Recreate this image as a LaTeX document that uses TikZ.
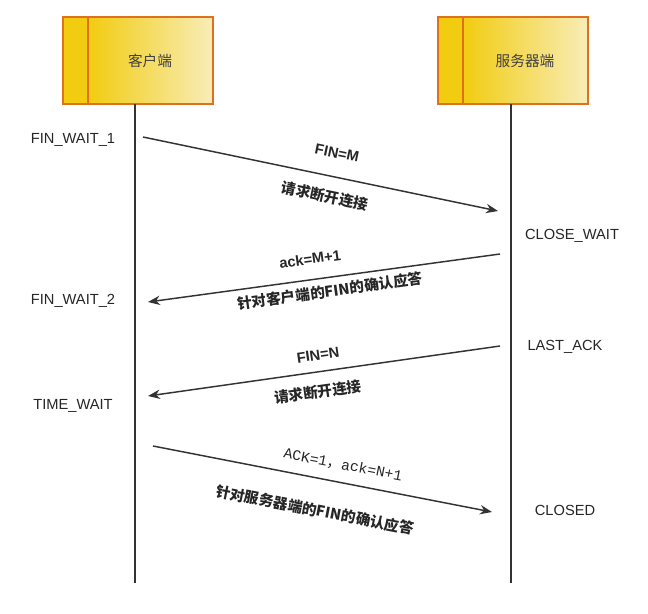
\documentclass[tikz,border=0pt]{standalone}
\usepackage{fontspec}
\setmainfont{Liberation Sans}
\newfontfamily\cjk{Noto Sans CJK SC}
\newfontfamily\mono{Liberation Mono}
\usetikzlibrary{arrows.meta}
\definecolor{boxedge}{HTML}{E07020}
\definecolor{ydark}{HTML}{F2CC10}
\definecolor{ylight}{HTML}{F8EDB8}
\definecolor{ln}{HTML}{333333}
\begin{document}
\begin{tikzpicture}[x=0.75pt,y=-0.75pt,
  msg/.style={draw=ln,line width=1.1pt,-{Stealth[length=9pt,width=7pt]}},
  life/.style={draw=ln,line width=1.1pt},
  st/.style={font=\fontsize{11}{13}\selectfont,text=black!85},
  lab/.style={text=black!85,inner sep=1pt}]
\useasboundingbox (0,0) rectangle (648,613);
\fill[white] (0,0) rectangle (648,613);
\foreach \x/\n/\t in {63/cbox/客户端,438/sbox/服务器端}{
  \shade[left color=ydark,right color=ylight] (\x+25,17) rectangle (\x+150,104);
  \fill[ydark] (\x,17) rectangle (\x+25,104);
  \draw[boxedge,line width=1.3pt] (\x,17) rectangle (\x+150,104);
  \draw[boxedge,line width=1.3pt] (\x+25,17) -- (\x+25,104);
  \node[font=\cjk\fontsize{11}{13}\selectfont,text=black!75] (\n) at (\x+87,61) {\t};
}
\coordinate (c0) at (135,104); \coordinate (c1) at (135,583);
\coordinate (s0) at (511,104); \coordinate (s1) at (511,583);
\draw[life] (c0) -- (c1);
\draw[life] (s0) -- (s1);
\node[st] (fw1) at (73,140) {FIN\_WAIT\_1};
\node[st] (cw) at (572,236) {CLOSE\_WAIT};
\node[st] (fw2) at (73,301) {FIN\_WAIT\_2};
\node[st] (la) at (565,347) {LAST\_ACK};
\node[st] (tw) at (73,406) {TIME\_WAIT};
\node[st] (cl) at (565,510) {CLOSED};
\coordinate (a1s) at (143,137); \coordinate (a1e) at (498,211);
\coordinate (a2s) at (500,254); \coordinate (a2e) at (148,302);
\coordinate (a3s) at (500,346); \coordinate (a3e) at (148,396);
\coordinate (a4s) at (153,446); \coordinate (a4e) at (492,512);
\draw[msg] (a1s) -- (a1e);
\draw[msg] (a2s) -- (a2e);
\draw[msg] (a3s) -- (a3e);
\draw[msg] (a4s) -- (a4e);
\node[lab,font=\bfseries\fontsize{11}{13}\selectfont,rotate=-11.8] (l1a) at (337,153) {FIN=M};
\node[lab,font=\cjk\bfseries\fontsize{11}{13}\selectfont,rotate=-11.8] (l1b) at (325,196) {请求断开连接};
\node[lab,font=\bfseries\fontsize{11}{13}\selectfont,rotate=7.8] (l2a) at (310,259) {ack=M+1};
\node[lab,font=\cjk\bfseries\fontsize{11}{13}\selectfont,rotate=7.8] (l2b) at (330,291) {针对客户端的FIN的确认应答};
\node[lab,font=\bfseries\fontsize{11}{13}\selectfont,rotate=8.1] (l3a) at (318,355) {FIN=N};
\node[lab,font=\cjk\bfseries\fontsize{11}{13}\selectfont,rotate=8.1] (l3b) at (318,392) {请求断开连接};
\node[lab,font=\mono\fontsize{11}{13}\selectfont,rotate=-11] (l4a) at (343,465) {ACK=1{\cjk ，}ack=N+1};
\node[lab,font=\cjk\bfseries\fontsize{11}{13}\selectfont,rotate=-11] (l4b) at (315,510) {针对服务器端的FIN的确认应答};
\end{tikzpicture}
\end{document}
